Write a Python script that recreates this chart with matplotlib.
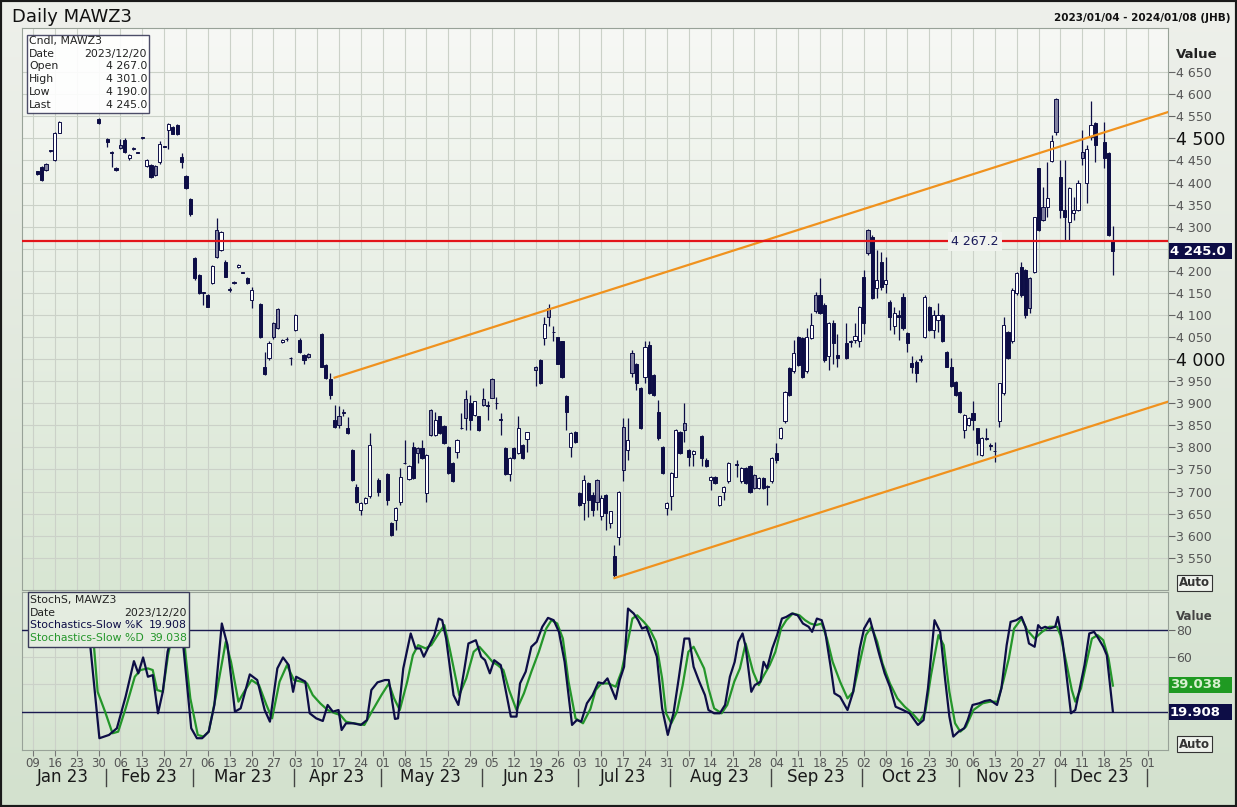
import numpy as np
import pandas as pd
import matplotlib
matplotlib.use('Agg')
import matplotlib.pyplot as plt
from matplotlib.patches import Rectangle
from matplotlib.colors import LinearSegmentedColormap
from matplotlib.transforms import blended_transform_factory

# trading day number = weekdays counted from Monday 2023-01-02
base = np.datetime64('2023-01-02')

day = [6, 7, 8, 9, 10, 11, 20, 22, 23, 24,
       25, 26, 27, 28, 29, 30, 31, 32, 33, 34,
       35, 36, 37, 38, 39, 40, 41, 42, 43, 44,
       45, 46, 47, 48, 49, 50, 51, 52, 53, 54,
       55, 57, 58, 59, 60, 61, 62, 63, 64, 65,
       66, 67, 68, 71, 72, 73, 74, 75, 76, 77,
       78, 79, 80, 81, 82, 84, 86, 87, 88, 89,
       90, 91, 92, 93, 94, 95, 96, 97, 98, 99,
       100, 101, 102, 103, 104, 105, 106, 107, 108, 109,
       110, 111, 112, 113, 114, 115, 116, 117, 118, 120,
       121, 122, 123, 124, 125, 126, 127, 128, 129, 130,
       131, 132, 133, 134, 135, 136, 137, 138, 139, 140,
       141, 142, 143, 144, 145, 146, 147, 148, 149, 150,
       151, 152, 153, 154, 155, 156, 158, 159, 160, 161,
       162, 163, 164, 166, 167, 168, 169, 170, 171, 172,
       173, 174, 175, 176, 177, 178, 179, 180, 181, 182,
       183, 184, 185, 186, 187, 188, 189, 191, 192, 193,
       194, 195, 196, 197, 198, 199, 200, 201, 202, 203,
       204, 205, 206, 207, 208, 209, 210, 211, 212, 213,
       214, 215, 216, 217, 218, 219, 220, 221, 222, 223,
       224, 225, 226, 227, 228, 229, 230, 231, 232, 233,
       234, 235, 236, 237, 238, 239, 240, 241, 242, 243,
       244, 245, 246, 247, 248, 250, 251, 252]

opn = [4425, 4435, 4441, 4473, 4451, 4513, 4545, 4498, 4470, 4433,
       4486, 4496, 4455, 4475, 4468, 4502, 4438, 4439, 4438, 4447,
       4482, 4519, 4526, 4530, 4457, 4415, 4362, 4229, 4190, 4151,
       4145, 4172, 4292, 4247, 4221, 4157, 4175, 4209, 4197, 4183,
       4134, 4125, 3983, 4002, 4081, 4113, 4038, 4046, 4003, 4066,
       4043, 4009, 4011, 4058, 3987, 3954, 3862, 3870, 3880, 3843,
       3794, 3711, 3659, 3674, 3689, 3727, 3740, 3628, 3636, 3677,
       3765, 3728, 3802, 3798, 3798, 3696, 3885, 3828, 3870, 3849,
       3802, 3764, 3790, 3844, 3909, 3900, 3874, 3870, 3909, 3895,
       3956, 3901, 3863, 3798, 3740, 3798, 3787, 3806, 3818, 3983,
       3999, 4047, 4115, 4062, 4049, 4040, 3917, 3802, 3836, 3696,
       3674, 3719, 3693, 3726, 3644, 3693, 3628, 3553, 3598, 3847,
       3794, 4013, 3990, 3934, 3960, 4032, 3964, 3881, 3802, 3662,
       3689, 3734, 3836, 3855, 3794, 3786, 3825, 3772, 3727, 3734,
       3670, 3700, 3723, 3762, 3723, 3753, 3757, 3738, 3708, 3730,
       3713, 3723, 3787, 3821, 3859, 3979, 3972, 4051, 4047, 3972,
       4047, 4145, 4145, 4123, 4006, 4081, 4009, 4036, 4040, 4043,
       4040, 4187, 4292, 4277, 4160, 4221, 4170, 4130, 4074, 4100,
       4141, 4060, 3991, 3994, 3998, 4051, 4119, 4066, 4089, 4100,
       4017, 3983, 3949, 3926, 3840, 3851, 3877, 3843, 3783, 3819,
       3805, 3792, 3859, 3923, 4062, 4040, 4149, 4209, 4202, 4183,
       4198, 4432, 4345, 4345, 4449, 4589, 4413, 4338, 4311, 4330,
       4338, 4470, 4398, 4504, 4534, 4492, 4466, 4267]

high = [4427, 4438, 4445, 4474, 4515, 4539, 4547, 4500, 4472, 4435,
        4498, 4500, 4464, 4480, 4469, 4504, 4454, 4441, 4440, 4494,
        4483, 4534, 4528, 4532, 4466, 4417, 4365, 4232, 4192, 4152,
        4147, 4213, 4319, 4290, 4224, 4164, 4177, 4216, 4198, 4185,
        4164, 4127, 4017, 4040, 4083, 4115, 4045, 4050, 4004, 4102,
        4048, 4011, 4013, 4060, 3990, 3968, 3896, 3894, 3888, 3868,
        3796, 3717, 3676, 3687, 3832, 3730, 3742, 3630, 3664, 3753,
        3817, 3760, 3813, 3800, 3817, 3785, 3887, 3881, 3872, 3851,
        3804, 3766, 3819, 3877, 3930, 3919, 3906, 3872, 3934, 3904,
        3958, 3914, 3877, 3800, 3778, 3800, 3870, 3808, 3836, 3985,
        4001, 4096, 4125, 4074, 4051, 4042, 3919, 3834, 3838, 3698,
        3738, 3721, 3700, 3728, 3693, 3695, 3657, 3580, 3702, 3866,
        3866, 4021, 3992, 3936, 4040, 4040, 3966, 3907, 3804, 3677,
        3744, 3842, 3838, 3900, 3796, 3794, 3827, 3775, 3736, 3736,
        3691, 3713, 3766, 3772, 3755, 3756, 3760, 3740, 3732, 3732,
        3715, 3778, 3810, 3846, 3928, 3981, 4043, 4053, 4049, 4070,
        4104, 4153, 4183, 4126, 4083, 4089, 4058, 4081, 4043, 4081,
        4121, 4202, 4294, 4280, 4247, 4243, 4232, 4134, 4119, 4111,
        4149, 4062, 4006, 3998, 4009, 4145, 4121, 4111, 4126, 4102,
        4019, 4002, 3951, 3928, 3876, 3868, 3904, 3845, 3823, 3843,
        3810, 3813, 3947, 4096, 4064, 4160, 4198, 4221, 4204, 4187,
        4323, 4434, 4390, 4447, 4507, 4591, 4451, 4451, 4390, 4368,
        4406, 4519, 4485, 4585, 4538, 4538, 4470, 4301]

low = [4417, 4403, 4426, 4470, 4448, 4512, 4533, 4481, 4436, 4426,
       4476, 4466, 4452, 4474, 4466, 4499, 4436, 4410, 4415, 4443,
       4480, 4475, 4509, 4508, 4432, 4385, 4325, 4180, 4147, 4123,
       4118, 4169, 4230, 4245, 4185, 4151, 4170, 4207, 4195, 4171,
       4115, 4047, 3964, 3998, 4045, 4068, 4036, 4040, 3987, 4064,
       4013, 3990, 4002, 3981, 3955, 3909, 3845, 3843, 3870, 3830,
       3725, 3675, 3647, 3672, 3685, 3690, 3670, 3600, 3613, 3670,
       3762, 3726, 3728, 3764, 3774, 3677, 3826, 3826, 3830, 3807,
       3740, 3721, 3775, 3841, 3840, 3840, 3872, 3838, 3894, 3862,
       3911, 3888, 3828, 3738, 3723, 3774, 3785, 3774, 3790, 3940,
       3943, 4032, 4074, 4040, 3988, 3958, 3840, 3779, 3811, 3668,
       3636, 3643, 3644, 3658, 3636, 3613, 3617, 3504, 3580, 3723,
       3772, 3960, 3930, 3841, 3945, 3921, 3917, 3817, 3740, 3647,
       3659, 3732, 3785, 3813, 3757, 3757, 3757, 3755, 3704, 3716,
       3668, 3681, 3720, 3734, 3720, 3716, 3697, 3706, 3706, 3706,
       3670, 3720, 3764, 3819, 3855, 3917, 3968, 3985, 3958, 3968,
       4045, 4104, 4102, 3994, 3976, 3990, 3983, 4000, 4028, 4036,
       4028, 4058, 4236, 4136, 4138, 4157, 4149, 4066, 4058, 4043,
       4066, 4017, 3968, 3949, 3994, 4047, 4064, 4047, 4062, 4038,
       3981, 3936, 3917, 3879, 3821, 3849, 3840, 3783, 3781, 3817,
       3795, 3768, 3847, 3919, 4000, 4036, 4145, 4141, 4092, 4104,
       4196, 4290, 4313, 4323, 4447, 4507, 4319, 4270, 4270, 4315,
       4336, 4440, 4353, 4496, 4447, 4434, 4279, 4190]

close = [4419, 4406, 4428, 4471, 4513, 4536, 4535, 4492, 4466, 4428,
         4479, 4470, 4462, 4479, 4467, 4500, 4452, 4412, 4417, 4488,
         4481, 4532, 4511, 4510, 4447, 4387, 4328, 4183, 4149, 4150,
         4119, 4211, 4232, 4287, 4187, 4159, 4172, 4214, 4196, 4173,
         4157, 4049, 3966, 4036, 4051, 4070, 4043, 4045, 4002, 4100,
         4015, 3998, 4004, 3983, 3957, 3919, 3847, 3851, 3879, 3832,
         3727, 3677, 3674, 3685, 3806, 3700, 3681, 3602, 3662, 3734,
         3764, 3758, 3730, 3787, 3776, 3783, 3828, 3862, 3832, 3809,
         3742, 3723, 3817, 3843, 3866, 3862, 3904, 3840, 3896, 3894,
         3913, 3900, 3862, 3740, 3776, 3776, 3843, 3776, 3834, 3975,
         3945, 4080, 4096, 4061, 3990, 3960, 3881, 3832, 3813, 3670,
         3727, 3681, 3659, 3677, 3685, 3651, 3655, 3512, 3700, 3749,
         3817, 3968, 3945, 3843, 4028, 3923, 3919, 3821, 3742, 3675,
         3742, 3840, 3787, 3840, 3779, 3791, 3776, 3757, 3734, 3719,
         3689, 3711, 3764, 3760, 3753, 3719, 3700, 3708, 3730, 3708,
         3711, 3776, 3772, 3843, 3926, 3919, 4013, 3987, 3960, 4051,
         4077, 4108, 4104, 3998, 4081, 4036, 4002, 4002, 4039, 4052,
         4119, 4081, 4240, 4138, 4179, 4164, 4179, 4096, 4104, 4095,
         4070, 4036, 3983, 3968, 4000, 4141, 4066, 4099, 4100, 4040,
         3983, 3938, 3919, 3881, 3874, 3866, 3862, 3810, 3821, 3821,
         3804, 3791, 3945, 4077, 4002, 4157, 4194, 4145, 4100, 4115,
         4323, 4292, 4315, 4364, 4494, 4515, 4338, 4323, 4387, 4338,
         4398, 4455, 4477, 4530, 4485, 4455, 4281, 4245]

# slow stochastics, (trading day, value)
k_pts = [(17, 88), (18.1, 68.6), (20.2, 0.6), (22.4, 3), (24.2, 7.9), (26.2, 31), (28.1, 56.9),
         (29.1, 48), (30.2, 59.6), (31.3, 45.5), (32.4, 46.7), (33.6, 18.8), (34.7, 34.5),
         (35.8, 63.7), (36.8, 75.9), (38.0, 95), (39.3, 71), (41.2, 7.9), (42.5, 0.6), (43.7, 0.6),
         (45.2, 5.4), (46.5, 24.9), (48.2, 84.4), (49.5, 68.6), (51.2, 20), (52.5, 22.4),
         (54.6, 47.2), (56.3, 43.1), (58.0, 21.2), (59.2, 12.7), (60.9, 51.6), (62.2, 59.6),
         (63.5, 54), (64.5, 34.5), (65.2, 45.5), (67.3, 41.9), (68.3, 18.8), (69.8, 15.1),
         (71.3, 13.2), (72.4, 24.9), (73.6, 20), (74.9, 21.2), (75.6, 6.6), (76.6, 11.5),
         (78.3, 11.5), (80.0, 10.3), (81.4, 13.9), (82.4, 35.8), (83.8, 41.4), (85.5, 43.1),
         (86.4, 43.1), (87.8, 14.7), (88.5, 15.1), (89.7, 51.6), (91.4, 77.1), (92.5, 66.2),
         (93.6, 66.2), (94.4, 60.1), (95.7, 68.6), (96.8, 75.9), (97.8, 88), (98.6, 86.8),
         (99.5, 73.4), (101.2, 32.1), (102.3, 24.9), (103.7, 51.6), (104.6, 69.8), (106.3, 72.2),
         (107.5, 60.1), (108.4, 57.6), (109.5, 48), (110.5, 57.6), (112.0, 54), (113.2, 34.5),
         (114.3, 16.4), (115.6, 16.4), (116.4, 40.6), (117.7, 49.2), (119.0, 67.4), (120.2, 71),
         (121.5, 82), (122.8, 88.5), (124.1, 86.8), (125.3, 78.3), (126.6, 56.4), (128.3, 10.3),
         (129.4, 13.9), (130.4, 12.7), (131.7, 26.1), (133.0, 32.1), (134.3, 41.4), (135.4, 40.6),
         (136.4, 44.3), (137.3, 37), (138.3, 29.2), (139.2, 43.1), (140.2, 52.8), (141.1, 95.3),
         (142.4, 91.7), (143.4, 86.8), (144.3, 80.7), (145.3, 82), (146.4, 72.2), (147.7, 60.1),
         (148.9, 22.4), (150.2, 3), (151.5, 18.8), (152.7, 44.3), (154.0, 73.4), (155.1, 73.4),
         (156.1, 52.8), (157.4, 41.9), (158.7, 32.1), (159.5, 21.2), (160.8, 18.8), (162.1, 18.8),
         (163.3, 24.9), (164.4, 45.5), (165.5, 56.4), (166.3, 71), (167.3, 77.1), (168.0, 67.4),
         (169.3, 34.5), (170.1, 39.4), (171.4, 41.9), (172.1, 56.4), (172.9, 51.6), (174.1, 66.2),
         (175.2, 75.9), (176.3, 88), (177.3, 89.2), (178.6, 91.7), (179.9, 90.4), (181.1, 84.4),
         (182.4, 82), (183.2, 78.3), (184.3, 88), (185.4, 86.8), (186.2, 78.3), (187.5, 51.6),
         (188.3, 33.4), (189.6, 30.9), (191.3, 21.2), (192.6, 34.5), (194.1, 66.2), (195.1, 80.7),
         (196.4, 88), (197.2, 78.3), (198.5, 62.5), (199.8, 48), (201.0, 38.2), (202.3, 23.6),
         (204.0, 21.2), (205.5, 18.8), (207.4, 10.3), (208.7, 13.9), (209.7, 37), (211.2, 86.8),
         (212.5, 78.3), (213.6, 44.3), (214.6, 16.4), (215.5, 1.8), (216.7, 5.4), (218.0, 7.9),
         (218.8, 13.9), (219.9, 24.9), (221.4, 26.1), (222.7, 27.8), (223.9, 28.5), (225.5, 24.9),
         (226.5, 37), (227.7, 68.6), (228.6, 85.6), (229.9, 86.8), (231.1, 89.2), (232.0, 82),
         (232.8, 69.8), (234.1, 67.4), (234.9, 83.2), (235.6, 80.7), (236.5, 82), (237.5, 80.7),
         (238.8, 82), (239.4, 89.2), (240.5, 71), (241.3, 49.2), (242.4, 18.8), (243.4, 21.2),
         (244.4, 37), (245.5, 54), (246.6, 77.1), (247.7, 78.3), (248.7, 73.4), (249.8, 67.4),
         (250.6, 61.3), (252, 19.908)]

d_pts = [(18.3, 88), (19.0, 66.2), (19.8, 34.5), (21.5, 20), (23.2, 4.2), (24.5, 5.4), (26.2, 22.4),
         (28.3, 45.5), (29.6, 50.4), (31.3, 51.6), (32.4, 50.4), (33.4, 35.8), (34.7, 34.5),
         (35.9, 61.3), (37.5, 85), (38.6, 88), (39.7, 67.4), (41.0, 29.7), (42.7, 3), (44.0, 1.8),
         (45.2, 5.4), (46.9, 32.1), (49.1, 71), (50.3, 56.4), (52.0, 27.3), (53.3, 34.5),
         (55.0, 43.1), (56.7, 39.4), (58.4, 24.9), (59.7, 15.1), (61.4, 41.9), (63.1, 54),
         (64.7, 43.1), (66.4, 41.9), (67.7, 40.6), (69.0, 32.1), (70.7, 26.1), (72.4, 21.2),
         (74.1, 18.8), (75.3, 17.6), (76.6, 12.7), (78.3, 11.5), (80.8, 10.3), (82.5, 20),
         (84.7, 32.1), (86.4, 40.6), (87.6, 29.7), (88.9, 21.2), (90.6, 41.9), (91.9, 61.3),
         (93.1, 68.6), (94.8, 66.2), (96.1, 68.6), (97.8, 77.1), (99.1, 83.2), (100.3, 66.2),
         (102.5, 32.1), (104.1, 44.3), (105.8, 63.7), (107.1, 67.4), (108.8, 61.3), (110.1, 56.4),
         (111.3, 54), (112.6, 50.4), (113.9, 35.8), (115.6, 21.2), (117.3, 33.4), (119.0, 49.2),
         (120.7, 63.7), (122.4, 80.7), (123.6, 86.8), (124.9, 84.4), (126.2, 73.4), (127.5, 41.9),
         (129.1, 15.1), (130.8, 11.5), (132.5, 22), (133.7, 35.8), (135.0, 40.6), (136.6, 40.6),
         (138.3, 38.2), (139.6, 49.2), (140.9, 68.6), (142.1, 88), (143.2, 90.4), (144.7, 85.6),
         (146.0, 80.7), (147.5, 71), (148.9, 44.3), (149.8, 18.8), (151.0, 11.5), (152.3, 20),
         (153.6, 39.4), (154.9, 63.7), (156.1, 67.4), (157.4, 58.9), (158.5, 51.6), (159.5, 37),
         (160.8, 22.4), (162.5, 18.8), (163.8, 24.9), (165.4, 41.9), (166.7, 51.6), (168.0, 69.8),
         (169.7, 49.2), (171.0, 39.4), (172.2, 46.7), (173.5, 54), (174.8, 63.7), (176.1, 80.7),
         (177.3, 86.8), (178.8, 91.7), (180.3, 90.4), (181.6, 86.8), (182.8, 84.4), (184.1, 83.2),
         (185.4, 84.4), (186.6, 73.4), (187.9, 56.4), (189.6, 41.9), (191.3, 29.7), (192.6, 34.5),
         (194.3, 58.9), (195.5, 75.9), (196.8, 82), (198.1, 71), (199.3, 55.2), (201.0, 40.6),
         (202.7, 29.7), (204.4, 23.6), (206.1, 18.8), (207.8, 12.7), (209.1, 20), (210.4, 46.7),
         (212.1, 75.9), (213.3, 68.6), (214.6, 34.5), (215.9, 11.5), (217.1, 5.4), (218.4, 9.1),
         (220.1, 21.2), (222.2, 26.1), (223.9, 27.3), (225.6, 27.3), (226.9, 41.9), (228.2, 58.9),
         (229.4, 80.7), (231.1, 88), (232.4, 79.5), (234.1, 73.4), (235.8, 78.3), (237.5, 82),
         (239.2, 82), (240.0, 75.9), (241.3, 56.4), (242.6, 35.8), (243.4, 27.3), (244.7, 37),
         (246.0, 56.4), (247.2, 73.4), (248.5, 75.9), (249.8, 72.2), (251.0, 58.9), (252, 39.038)]

# drawn studies: channel (day, price) end points and the horizontal level
upper_day, upper_price = [74, 266], [3958, 4564]
lower_day, lower_price = [138, 266], [3504, 3908]
level = 4267.2

W, H = 1237, 807
navy = '#0d0d46'
green = '#24962a'


def fx(x):
    return x / W


def fy(y):
    return 1 - y / H


def rect(l, t, r, b):
    return [fx(l), fy(b), (r - l) / W, (b - t) / H]


def thou(v, nd=0):
    return f'{v:,.{nd}f}'.replace(',', ' ')


fig = plt.figure(figsize=(W / 100, H / 100), dpi=100)

bg = fig.add_axes([0, 0, 1, 1], zorder=-10)
bg.imshow(np.linspace(0, 1, 256)[:, None], aspect='auto', extent=[0, 1, 0, 1],
          cmap=LinearSegmentedColormap.from_list('bg', ['#eef0eb', '#d3e1ce']))
bg.axis('off')

ax = fig.add_axes(rect(22, 28, 1168, 590))
ax2 = fig.add_axes(rect(22, 592, 1168, 750), sharex=ax)

xmin, xmax = 2.5, 264.6
ymin, ymax = 3477, 4750
ax.imshow(np.linspace(0, 1, 256)[:, None], aspect='auto', extent=[xmin, xmax, ymin, ymax],
          cmap=LinearSegmentedColormap.from_list('m', ['#f7f8f5', '#d8e6d3']), zorder=-1)
ax2.imshow(np.linspace(0, 1, 256)[:, None], aspect='auto', extent=[xmin, xmax, -8, 107.4],
           cmap=LinearSegmentedColormap.from_list('s', ['#e2ebde', '#d6e4d1']), zorder=-1)

# candles
d = np.array(day, float)
o, h, l, c = map(np.array, (opn, high, low, close))
prev = np.r_[c[0], c[:-1]]
fills = np.where(c > o, 'white', np.where(c > prev, '#8282a0', navy))
ax.vlines(d, l, h, color=navy, lw=0.9, zorder=3)
ax.bar(d, np.maximum(np.abs(c - o), 1.5), bottom=np.minimum(o, c), width=0.72,
       color=fills, edgecolor=navy, linewidth=0.7, zorder=4)

ax.plot(upper_day, upper_price, color='#f0921e', lw=1.6, zorder=5)
ax.plot(lower_day, lower_price, color='#f0921e', lw=1.6, zorder=5)
ax.axhline(level, color='#e3151a', lw=1.6, zorder=5)
ax.text(220.5, level, thou(level, 1), ha='center', va='center', color='#1a1a5a', fontsize=9,
        zorder=6, bbox=dict(boxstyle='square,pad=0.25', fc='#f0f3ee', ec='none'))

ax.set_xlim(xmin, xmax)
ax.set_ylim(ymin, ymax)
yt = np.arange(3550, 4651, 50)
ax.set_yticks(yt)
# the 4 250 label sits under the last-price box
ax.set_yticklabels(['' if v == 4250 else thou(v) for v in yt])
ax.yaxis.tick_right()
ax.tick_params(axis='y', direction='out', length=5, pad=1, labelsize=9,
               labelcolor='#555555', color='#666666')
for t in ax.yaxis.get_major_ticks():
    if t.get_loc() in (4000, 4500):
        t.label2.set_fontsize(12.5)
        t.label2.set_color('#111111')
ax.tick_params(axis='x', length=0, labelbottom=False)

# stochastics
kd, kv = zip(*k_pts)
dd, dv = zip(*d_pts)
ax2.plot(dd, dv, color=green, lw=1.6, zorder=4)
ax2.plot(kd, kv, color=navy, lw=1.6, zorder=5)
ax2.axhline(80, color='#1a1a50', lw=1, zorder=3)
ax2.axhline(20, color='#1a1a50', lw=1, zorder=3)
ax2.set_ylim(-8, 107.4)
ax2.set_yticks([20, 40, 60, 80])
ax2.set_yticklabels(['', '', '60', '80'])
ax2.yaxis.tick_right()
ax2.tick_params(axis='y', direction='out', length=5, pad=1, labelsize=9,
                labelcolor='#555555', color='#666666')

mondays = np.arange(5, 261, 5)
mdates = np.busday_offset(base, mondays)
mday = (mdates - mdates.astype('datetime64[M]')).astype(int) + 1
ax2.set_xticks(mondays)
ax2.set_xticklabels([f'{v:02d}' for v in mday])
ax2.tick_params(axis='x', direction='out', length=4, pad=1, labelsize=8.5,
                labelcolor='#555555', color='#777777')

for a in (ax, ax2):
    a.grid(True, color='#cbd1c8', lw=0.8)
    a.set_axisbelow(True)
    for s in a.spines.values():
        s.set_color('#98a298')
        s.set_linewidth(0.8)

# month labels and separators
tr = blended_transform_factory(ax2.transData, fig.transFigure)
for m in range(12):
    first = (np.datetime64('2023-01', 'M') + m).astype('datetime64[D]')
    nxt = (np.datetime64('2023-01', 'M') + m + 1).astype('datetime64[D]')
    b0 = max(np.busday_count(base, first), xmin)
    b1 = np.busday_count(base, nxt) - 1
    ax2.text((b0 + b1) / 2, fy(777), pd.Timestamp(first).strftime('%b %y'), transform=tr,
             ha='center', va='center', fontsize=12, color='#1a1a1a')
    sep = b1 + 0.7
    ax2.plot([sep, sep], [fy(769), fy(786)], transform=tr, color='#444444', lw=1, clip_on=False)

# header
fig.text(fx(12), fy(17), 'Daily MAWZ3', fontsize=13, va='center', color='#111111')
fig.text(fx(1230), fy(18), '2023/01/04 - 2024/01/08 (JHB)', fontsize=7.5, fontweight='bold',
         ha='right', va='center', color='#111111')

# right-hand labels
fig.text(fx(1176), fy(54), 'Value', fontsize=9.5, fontweight='bold', va='center', color='#222222')
fig.text(fx(1176), fy(616), 'Value', fontsize=8.5, fontweight='bold', va='center', color='#444444')


def value_box(y, txt, fc, tc):
    fig.patches.append(Rectangle((fx(1169), fy(y + 8)), 63 / W, 16 / H, transform=fig.transFigure,
                                 fc=fc, ec='none', zorder=5))
    fig.text(fx(1170), fy(y), txt, fontsize=9.5, fontweight='bold', color=tc, va='center', zorder=6)


value_box(251, thou(close[-1], 1), navy, 'white')
value_box(685, f'{dv[-1]:.3f}', '#1f9a22', '#d8f0d0')
value_box(712, f'{kv[-1]:.3f}', navy, 'white')

for y in (583, 744):
    fig.text(fx(1179), fy(y), 'Auto', fontsize=8.5, fontweight='bold', va='center', color='#333333',
             bbox=dict(boxstyle='square,pad=0.15', fc='#eef2ec', ec='#333333', lw=0.8))

# info boxes
last_date = str(np.busday_offset(base, day[-1])).replace('-', '/')
fig.patches.append(Rectangle((fx(27), fy(113)), 122 / W, 78 / H, transform=fig.transFigure,
                             fc='white', ec='#3a3a5a', lw=1, alpha=0.9, zorder=2))
rows = [('Cndl, MAWZ3', ''), ('Date', last_date), ('Open', thou(opn[-1], 1)),
        ('High', thou(high[-1], 1)), ('Low', thou(low[-1], 1)), ('Last', thou(close[-1], 1))]
for i, (a, b) in enumerate(rows):
    y = fy(41 + i * 12.7)
    fig.text(fx(29), y, a, fontsize=7.8, va='center', color='#222222', zorder=3)
    fig.text(fx(147), y, b, fontsize=7.8, va='center', ha='right', color='#222222', zorder=3)

fig.patches.append(Rectangle((fx(28), fy(647)), 161 / W, 55 / H, transform=fig.transFigure,
                             fc='#e4ece0', ec='#3a3a5a', lw=1, zorder=2))
rows = [('StochS, MAWZ3', '', '#222222'), ('Date', last_date, '#222222'),
        ('Stochastics-Slow %K', f'{kv[-1]:.3f}', navy),
        ('Stochastics-Slow %D', f'{dv[-1]:.3f}', green)]
for i, (a, b, col) in enumerate(rows):
    y = fy(600 + i * 12.7)
    fig.text(fx(30), y, a, fontsize=7.8, va='center', color=col, zorder=3)
    fig.text(fx(187), y, b, fontsize=7.8, va='center', ha='right', color=col, zorder=3)

fig.patches.append(Rectangle((0, 0), 1, 1, transform=fig.transFigure, fill=False,
                             ec='#1a1a1a', lw=3, zorder=10))

fig.savefig('out.png', dpi=100)
